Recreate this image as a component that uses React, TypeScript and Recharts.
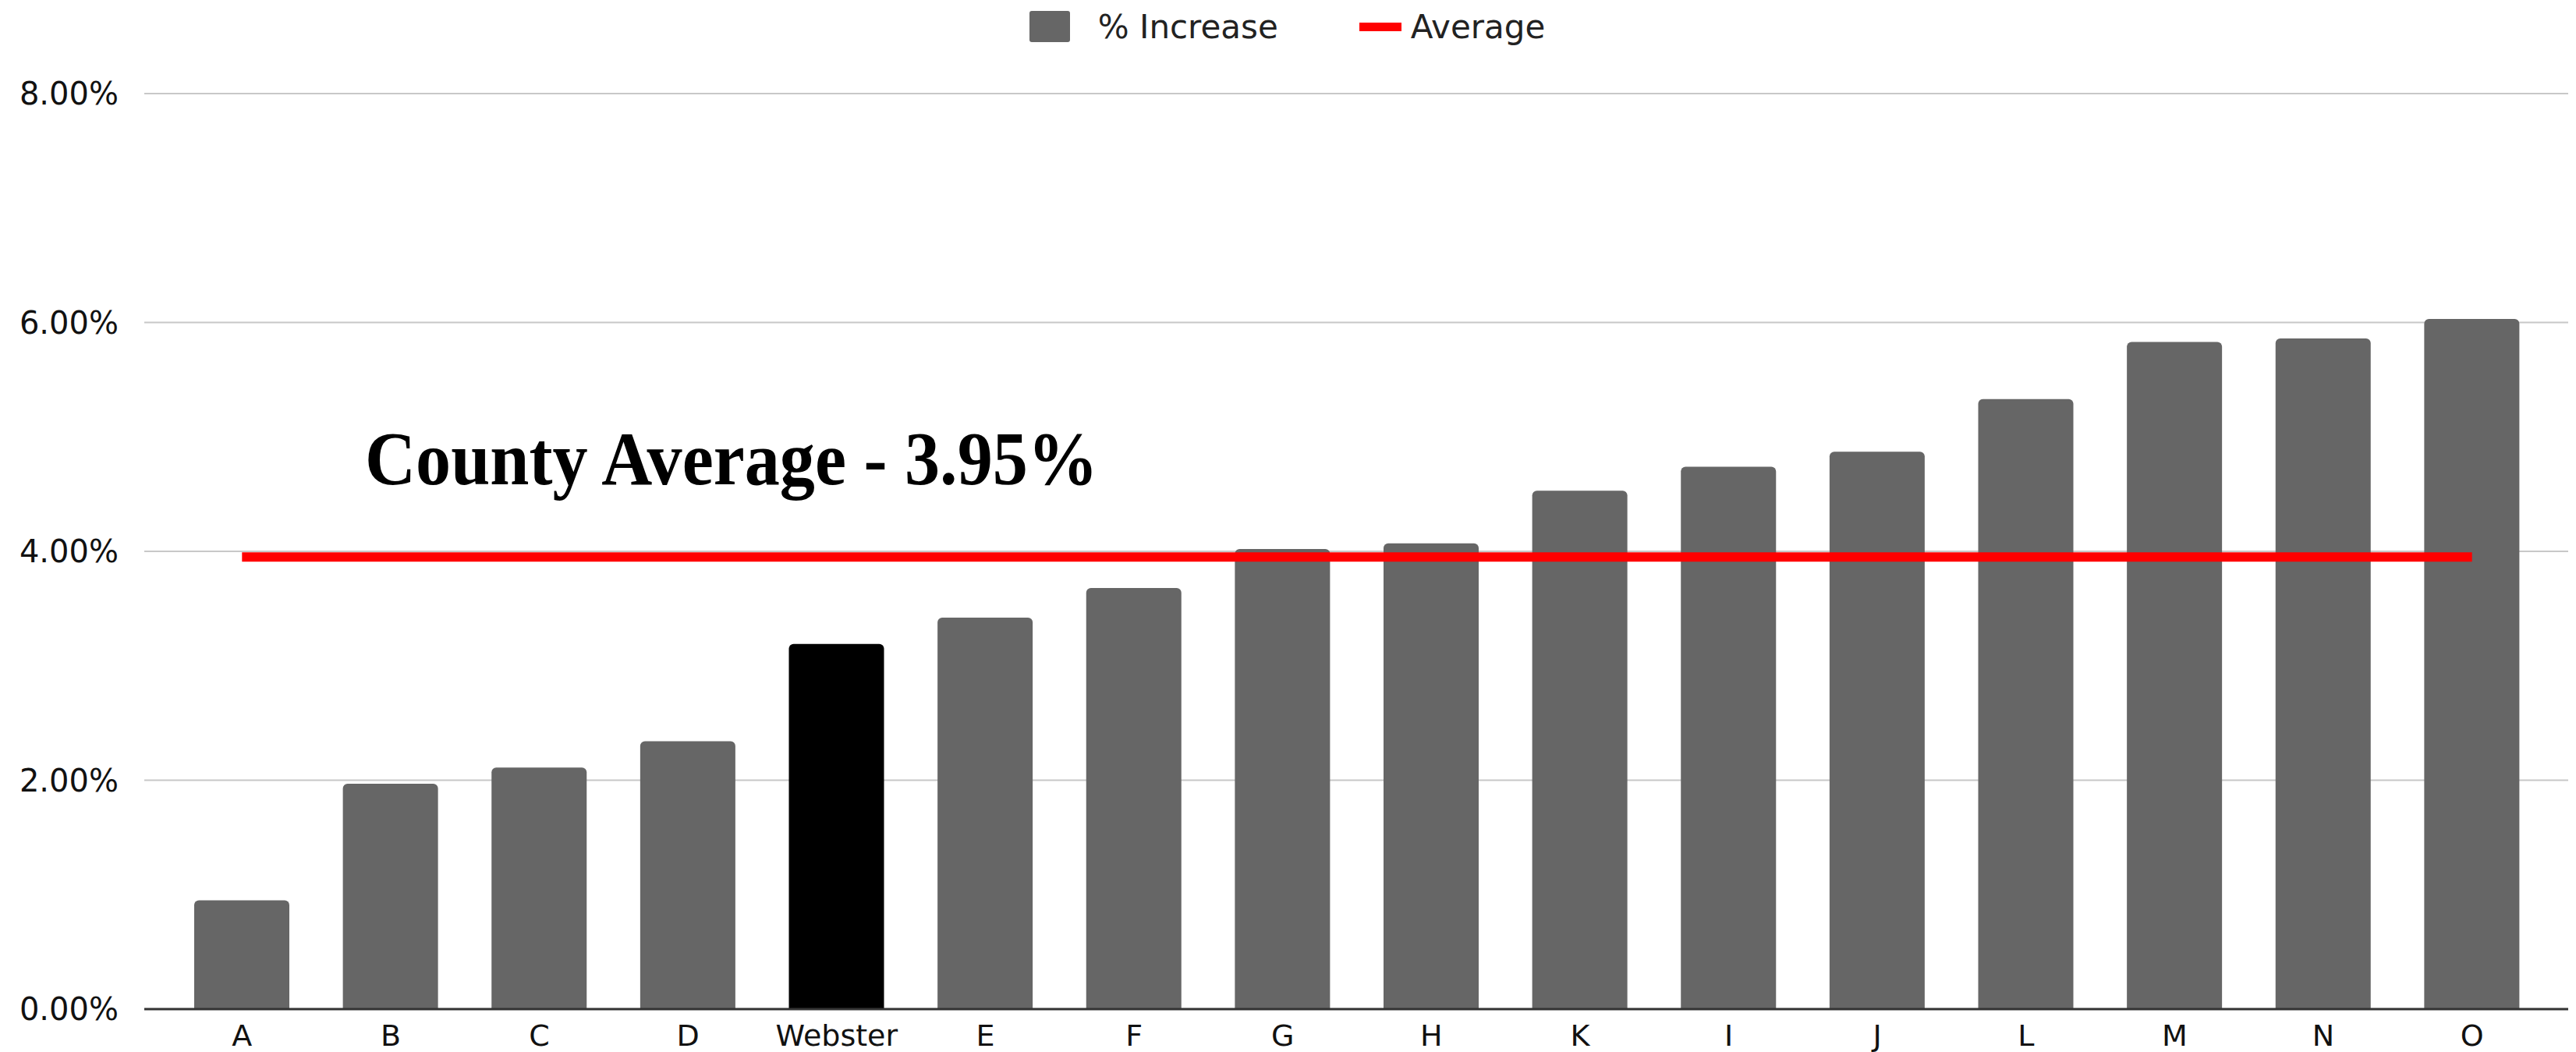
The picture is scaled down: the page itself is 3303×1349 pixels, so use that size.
import { ComposedChart, Bar, Line, XAxis, YAxis, CartesianGrid, Legend, ReferenceLine, Cell } from 'recharts';

const towns = ['A', 'B', 'C', 'D', 'Webster', 'E', 'F', 'G', 'H', 'K', 'I', 'J', 'L', 'M', 'N', 'O'];
const increase = [0.95, 1.97, 2.11, 2.34, 3.19, 3.42, 3.68, 4.02, 4.07, 4.53, 4.74, 4.87, 5.33, 5.83, 5.86, 6.03];
const countyAverage = 3.95;
const yTicks = [0, 2, 4, 6, 8];
const highlight = 'Webster';

const data = towns.map((name, i) => ({ name, increase: increase[i], average: countyAverage }));

const axisFont = '"DejaVu Sans", Verdana, sans-serif';

function LegendBox() {
  return (
    <div style={{ height: 120, paddingTop: 8, paddingLeft: 8, boxSizing: 'border-box', display: 'flex', justifyContent: 'center', alignItems: 'flex-start', fontFamily: axisFont, fontSize: 42, color: '#222' }}>
      <div style={{ display: 'flex', alignItems: 'center', height: 52 }}>
        <span style={{ width: 52, height: 40, background: '#666666', borderRadius: 3, display: 'inline-block', marginRight: 36 }} />
        <span>% Increase</span>
        <span style={{ width: 54, height: 11, background: '#ff0000', display: 'inline-block', marginLeft: 104, marginRight: 12 }} />
        <span>Average</span>
      </div>
    </div>
  );
}

function AverageLabel(props: any) {
  const { viewBox } = props;
  return (
    <text
      x={viewBox.x + 283}
      y={viewBox.y - 93}
      fontFamily='"Liberation Serif", "Times New Roman", serif'
      fontWeight="bold"
      fontSize={98}
      fill="#000"
      textLength={940}
      lengthAdjust="spacingAndGlyphs"
    >
      {`County Average - ${countyAverage.toFixed(2)}%`}
    </text>
  );
}

export default function App() {
  return (
    <div style={{ position: 'absolute', left: 0, top: 0, background: '#fff' }}>
      <ComposedChart width={3303} height={1349} data={data} margin={{ top: 0, right: 10, bottom: 25, left: 0 }}>
        <CartesianGrid vertical={false} stroke="#c8c8c8" strokeWidth={2} />
        <XAxis
          dataKey="name"
          height={30}
          padding={{ left: 30, right: 28 }}
          tickLine={false}
          tickSize={0}
          tickMargin={20}
          axisLine={{ stroke: '#333', strokeWidth: 3 }}
          tick={{ fontFamily: axisFont, fontSize: 38, fill: '#111' }}
          interval={0}
        />
        <YAxis
          domain={[0, 8]}
          ticks={yTicks}
          width={185}
          axisLine={false}
          tickLine={false}
          tickSize={0}
          tickMargin={33}
          tickFormatter={(v: number) => `${v.toFixed(2)}%`}
          tick={{ fontFamily: axisFont, fontSize: 40, fill: '#111' }}
        />
        <Legend verticalAlign="top" content={() => <LegendBox />} />
        <ReferenceLine y={countyAverage} stroke="none" label={<AverageLabel />} />
        <Bar dataKey="increase" name="% Increase" barSize={122} radius={[6, 6, 0, 0]} isAnimationActive={false}>
          {data.map((d) => (
            <Cell key={d.name} fill={d.name === highlight ? '#000000' : '#666666'} />
          ))}
        </Bar>
        <Line dataKey="average" name="Average" stroke="#ff0000" strokeWidth={12} dot={false} activeDot={false} isAnimationActive={false} />
      </ComposedChart>
    </div>
  );
}
